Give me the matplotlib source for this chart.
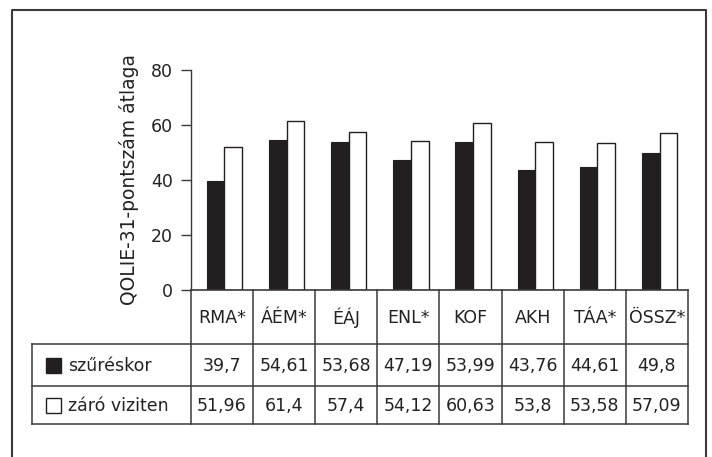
import numpy as np
import matplotlib.pyplot as plt
from matplotlib.patches import Rectangle

categories = ['RMA*', 'ÁÉM*', 'ÉÁJ', 'ENL*', 'KOF', 'AKH', 'TÁA*', 'ÖSSZ*']
szureskor = [39.7, 54.61, 53.68, 47.19, 53.99, 43.76, 44.61, 49.8]
zaro = [51.96, 61.4, 57.4, 54.12, 60.63, 53.8, 53.58, 57.09]
series_names = ['szűréskor', 'záró viziten']
yticks = [0, 20, 40, 60, 80]

W, H = 712, 457
DARK = '#231f20'
LINE = '#3a3a3a'
plt.rcParams['font.family'] = 'DejaVu Sans'

fig = plt.figure(figsize=(W / 100, H / 100), dpi=100)

# plot area in pixel terms
px_left, px_right = 190.7, 688
px_top, px_bottom = 70, 290

ax = fig.add_axes([px_left / W, 1 - px_bottom / H,
                   (px_right - px_left) / W, (px_bottom - px_top) / H])
x = np.arange(len(categories))
bw = 0.285
ax.bar(x + 0.4, szureskor, bw, color=DARK, edgecolor=DARK, linewidth=0.8)
ax.bar(x + 0.4 + bw, zaro, bw, color='white', edgecolor=DARK, linewidth=1.0)
ax.set_xlim(0, len(categories))
ax.set_ylim(0, 80)
ax.set_yticks(yticks)
ax.set_yticklabels([str(v) for v in yticks], fontsize=12.5, color='#222')
ax.set_xticks([])
ax.tick_params(axis='y', length=7, width=1.0, color=LINE, pad=6)
for s in ['top', 'right']:
    ax.spines[s].set_visible(False)
ax.spines['left'].set_color(LINE)
ax.spines['bottom'].set_color(LINE)
ax.spines['left'].set_linewidth(1.0)
ax.spines['bottom'].set_linewidth(1.2)
ax.set_ylabel('QOLIE-31-pontszám átlaga', fontsize=13.5, color='#222', labelpad=8)
ax.patch.set_alpha(0)

# overlay in pixel coordinates for the frame and the data table
ov = fig.add_axes([0, 0, 1, 1], zorder=-1)
ov.set_xlim(0, W)
ov.set_ylim(H, 0)
ov.axis('off')

# outer frame (bottom edge falls off the image)
ov.plot([12, 12, 706, 706], [H + 5, 10, 10, H + 5], color=LINE, lw=1.5)

n = len(categories)
col_w = (px_right - px_left) / n
col_edges = [px_left + i * col_w for i in range(n + 1)]
tab_left = 32
row_edges = [290, 344, 386, 424]

kw = dict(color=LINE, lw=1.1)
# header row: only the category columns
for xe in col_edges:
    ov.plot([xe, xe], [row_edges[0], row_edges[-1]], **kw)
ov.plot([tab_left, tab_left], [row_edges[1], row_edges[-1]], **kw)
for ye in row_edges[1:]:
    ov.plot([tab_left, px_right], [ye, ye], **kw)

tfs = 12.5
for i, cat in enumerate(categories):
    cx = col_edges[i] + col_w / 2
    ov.text(cx, (row_edges[0] + row_edges[1]) / 2 + 1, cat, ha='center', va='center',
            fontsize=tfs, color='#222')
    for r, vals in enumerate([szureskor, zaro]):
        label = ('%g' % vals[i]).replace('.', ',')
        ov.text(cx, (row_edges[r + 1] + row_edges[r + 2]) / 2 + 1, label,
                ha='center', va='center', fontsize=tfs, color='#222')

# legend keys in the first column
for r, (name, face) in enumerate(zip(series_names, [DARK, 'white'])):
    cy = (row_edges[r + 1] + row_edges[r + 2]) / 2
    ov.add_patch(Rectangle((46, cy - 7.5), 15, 15, facecolor=face,
                           edgecolor=DARK, lw=1.0))
    ov.text(68, cy + 1, name, ha='left', va='center', fontsize=tfs, color='#222')

fig.savefig('out.png', dpi=100)
